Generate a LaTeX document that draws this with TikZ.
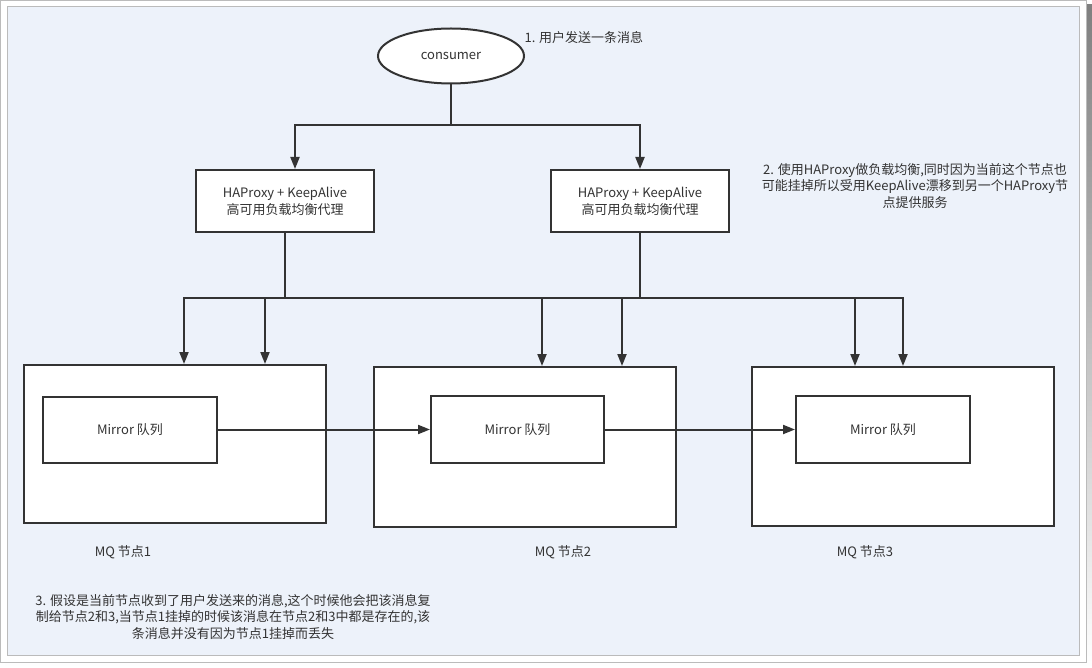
\documentclass[tikz,border=0pt]{standalone}
\usepackage{fontspec}
\setmainfont{Noto Sans CJK SC}
\usetikzlibrary{arrows.meta,shapes.geometric}
\definecolor{ink}{HTML}{333333}
\definecolor{panel}{HTML}{EDF2FA}
\definecolor{rim}{HTML}{BBBBBB}
\definecolor{shade}{HTML}{E2E2E2}

\begin{document}
\begin{tikzpicture}[x=1pt,y=-1pt,
  box/.style={draw=ink,line width=2pt,fill=white,text=ink,inner sep=0pt,
    font=\fontsize{13}{17}\selectfont},
  link/.style={draw=ink,line width=2pt,-{Triangle[length=12pt,width=9pt]}},
  note/.style={text=ink,align=center,font=\fontsize{13}{16.5}\selectfont}]
  \useasboundingbox (0,0) rectangle (1092,668);

  % frame
  \fill[shade] (5,5) rectangle (1092,668);
  \draw[rim,fill=white,line width=1pt] (0.5,0.5) rectangle (1086,662);
  \draw[rim,fill=panel,line width=1pt] (7,7) rectangle (1079,655);

  % consumer and proxies
  \node[box,ellipse,minimum width=146pt,minimum height=55pt] (consumer) at (451,56) {consumer};
  \node[box,align=center,minimum width=178pt,minimum height=62pt] (ha1) at (285,201) {HAProxy + KeepAlive\\高可用负载均衡代理};
  \node[box,align=center,minimum width=178pt,minimum height=62pt] (ha2) at (640,201) {HAProxy + KeepAlive\\高可用负载均衡代理};

  % MQ nodes
  \node[box,minimum width=302pt,minimum height=158pt] (mq1) at (175,444) {};
  \node[box,minimum width=302pt,minimum height=160pt] (mq2) at (525,447) {};
  \node[box,minimum width=302pt,minimum height=159pt] (mq3) at (903,446.5) {};
  \node[box,minimum width=174pt,minimum height=66pt] (mirror1) at (130,429.5) {Mirror 队列};
  \node[box,minimum width=173pt,minimum height=67pt] (mirror2) at (517.5,429.5) {Mirror 队列};
  \node[box,minimum width=174pt,minimum height=67pt] (mirror3) at (883,429.5) {Mirror 队列};
  \node[note] (mqlabel1) at (123,552) {MQ 节点1};
  \node[note] (mqlabel2) at (563,552) {MQ 节点2};
  \node[note] (mqlabel3) at (865,552) {MQ 节点3};

  % connectors
  \coordinate (split) at (451,125);
  \draw[link] (consumer.south) -- (split) -| (295,0 |- ha1.north);
  \draw[link] (consumer.south) -- (split) -| (ha2.north);
  \coordinate (bus1) at (285,298);
  \coordinate (bus2) at (640,298);
  \foreach \tgt/\xx in {mq1/184,mq2/542,mq3/855}
    \draw[link] (ha1.south) -- (bus1) -| (\xx,0 |- \tgt.north);
  \foreach \tgt/\xx in {mq1/265,mq2/622,mq3/903}
    \draw[link] (ha2.south) -- (bus2) -| (\xx,0 |- \tgt.north);
  \draw[link] (mirror1.east) -- (mirror2.west);
  \draw[link] (mirror2.east) -- (mirror3.west);

  % notes
  \node[note,anchor=west] (step1) at (521,38) {1. 用户发送一条消息};
  \node[note] (step2) at (915,186) {2. 使用HAProxy做负载均衡,同时因为当前这个节点也\\可能挂掉所以受用KeepAlive漂移到另一个HAProxy节\\点提供服务};
  \node[note] (step3) at (233,617) {3. 假设是当前节点收到了用户发送来的消息,这个时候他会把该消息复\\制给节点2和3,当节点1挂掉的时候该消息在节点2和3中都是存在的,该\\条消息并没有因为节点1挂掉而丢失};
\end{tikzpicture}
\end{document}
